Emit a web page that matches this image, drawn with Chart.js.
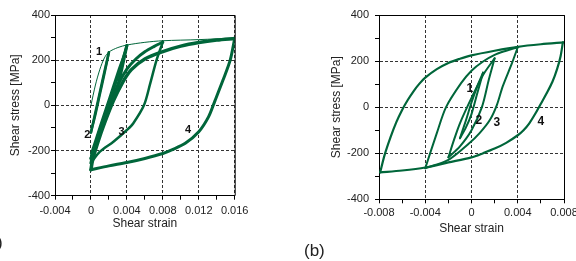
<!DOCTYPE html>
<html lang="en">
<head>
<meta charset="UTF-8">
<title>Shear hysteresis loops</title>
<script src="https://cdn.jsdelivr.net/npm/chart.js"></script>
<style>
  body { margin: 0; width: 576px; height: 261px; overflow: hidden; background: #fff; position: relative; font-family: "Liberation Sans", Arial, sans-serif; }
  canvas { position: absolute; top: 0; }
  #cA { left: 0; }
  #cB { left: 290px; }
  .tag { position: absolute; font-size: 17px; color: #222; }
</style>
</head>
<body>
<canvas id="cA" width="290" height="261"></canvas>
<canvas id="cB" width="300" height="261"></canvas>
<div class="tag" style="left:-18px; top:233px;">(a)</div>
<div class="tag" style="left:304px; top:241px;">(b)</div>
<script>
// ---- panel (a): strain 0 .. max, [strain, stress MPa]
const a1Up   = [[0,-120],[0.0005,-30],[0.001,60],[0.0015,150],[0.002,235]];
const a1Down = [[0.002,235],[0.0015,140],[0.001,50],[0.0005,-40],[0,-120]];
const a2Up   = [[0,-235],[0.001,-110],[0.002,10],[0.003,130],[0.0035,195],[0.004,265]];
const a2Down = [[0.004,265],[0.0036,190],[0.003,90],[0.002,-20],[0.001,-125],[0,-235]];
const a2Up2  = [[0,-215],[0.001,-92],[0.002,28],[0.003,150],[0.0035,205],[0.004,262]];
const a3Up   = [[0,-255],[0.0003,-200],[0.001,-120],[0.002,-10],[0.003,90],[0.004,160],[0.005,205],[0.006,237],[0.007,260],[0.008,280]];
const a3Down = [[0.008,280],[0.0073,200],[0.0066,97],[0.0059,0],[0.0047,-80],[0.004,-109],[0.0025,-161],[0.001,-205],[0,-255]];
const a4Up   = [[0,-285],[0.0002,-240],[0.0008,-160],[0.0015,-80],[0.0025,20],[0.0035,100],[0.0045,158],[0.006,205],[0.008,238],[0.01,262],[0.012,278],[0.014,289],[0.016,296]];
const a4Down = [[0.016,296],[0.0155,200],[0.0147,112],[0.0138,20],[0.0131,-50],[0.012,-117],[0.0105,-168],[0.009,-197],[0.008,-213],[0.006,-235],[0.004,-253],[0.002,-268],[0,-285]];
const aFirst = [[0,0],[0.0005,90],[0.001,160],[0.0015,210],[0.002,236],[0.003,256],[0.004,267],[0.006,279],[0.008,286],[0.012,291],[0.016,298]];
const aLabels = [["1",0.0009,237],["2",-0.0004,-131],["3",0.0034,-117],["4",0.0108,-109]];

// ---- panel (b): symmetric strain
const b1Up   = [[-0.001,-135],[-0.0005,-60],[0,20],[0.0005,90],[0.001,150]];
const b1Down = [[0.001,150],[0.0005,60],[0,-30],[-0.0005,-90],[-0.001,-135]];
const b2Up   = [[-0.002,-218],[-0.0015,-140],[-0.001,-70],[0,40],[0.001,140],[0.002,212]];
const b2Down = [[0.002,212],[0.0015,120],[0.0009,0],[0,-100],[-0.001,-170],[-0.002,-218]];
const b3Up   = [[-0.004,-265],[-0.003,-113],[-0.0022,0],[-0.0009,104],[0,158],[0.001,198],[0.002,227],[0.003,245],[0.004,260]];
const b3Down = [[0.004,260],[0.0035,191],[0.0027,90],[0.0022,10],[0.0016,-55],[0.0007,-113],[-0.0002,-157],[-0.002,-229],[-0.004,-265]];
const b4Up   = [[-0.0079,-283],[-0.0075,-205],[-0.007,-130],[-0.0065,-65],[-0.006,-12],[-0.0055,32],[-0.005,70],[-0.0045,102],[-0.004,128],[-0.003,165],[-0.002,192],[-0.001,210],[0,225],[0.002,245],[0.004,262],[0.006,273],[0.008,281]];
const b4Down = [[0.0079,281],[0.0077,220],[0.0074,165],[0.007,110],[0.0065,60],[0.006,15],[0.0055,-30],[0.005,-70],[0.0045,-100],[0.004,-122],[0.003,-155],[0.002,-180],[0.001,-200],[0,-218],[-0.002,-240],[-0.004,-262],[-0.006,-275],[-0.0079,-283]];
const bLabels = [["1",-0.00015,78],["2",0.00063,-58],["3",0.0022,-67],["4",0.006,-63]];

const green = "#00663a";
const fontFam = "'Liberation Sans', Arial, sans-serif";

function line(pts, w) {
    return {
        data: pts.map(p => ({x: p[0], y: p[1]})),
        showLine: true, pointRadius: 0, borderColor: green, borderWidth: w,
        tension: 0.3, borderCapStyle: "round", borderJoinStyle: "round", fill: false
    };
}

function fmt(v) {
    return String(Math.round(v * 1000) / 1000);
}

// box on top and right + loop numbers
const extras = {
    id: "extras",
    afterDraw(chart, args, opts) {
        const c = chart.ctx, a = chart.chartArea;
        c.save();
        c.strokeStyle = "#000";
        c.lineWidth = 1;
        c.beginPath();
        c.moveTo(a.left, a.top + 0.5);
        c.lineTo(a.right + 0.5, a.top + 0.5);
        c.lineTo(a.right + 0.5, a.bottom);
        c.stroke();
        c.fillStyle = "#111";
        c.font = "bold " + opts.size + "px " + fontFam;
        c.textAlign = "center";
        c.textBaseline = "middle";
        opts.labels.forEach(l => {
            c.fillText(l[0], chart.scales.x.getPixelForValue(l[1]), chart.scales.y.getPixelForValue(l[2]));
        });
        c.restore();
    }
};

function makeChart(id, sets, cfg) {
    return new Chart(document.getElementById(id), {
        type: "scatter",
        data: { datasets: sets },
        plugins: [extras],
        options: {
            responsive: false, animation: false, devicePixelRatio: 1,
            layout: { padding: cfg.pad },
            plugins: { legend: { display: false }, tooltip: { enabled: false }, extras: { labels: cfg.labels, size: cfg.lblSize } },
            scales: {
                x: {
                    type: "linear", min: cfg.xmin, max: cfg.xmax,
                    afterFit: s => { s.height = 40; },
                    ticks: {
                        stepSize: 0.002, autoSkip: false, maxRotation: 0, padding: cfg.xPad,
                        color: "#222", font: { family: fontFam, size: 11 },
                        callback: v => (Math.round(v / 0.002) % 2 === 0 ? fmt(v) : "")
                    },
                    grid: {
                        color: c => (Math.round(c.tick.value / 0.002) % 2 === 0 ? "#333" : "rgba(0,0,0,0)"),
                        tickColor: "#000", tickLength: 4, lineWidth: 1
                    },
                    border: { color: "#000", width: 1, dash: [3, 2] },
                    title: { display: true, text: "Shear strain", color: "#222", font: { family: fontFam, size: 12 }, padding: { top: 0, bottom: cfg.xTitlePad } }
                },
                y: {
                    type: "linear", min: -400, max: 400,
                    afterFit: s => { s.width = cfg.yWidth; },
                    ticks: {
                        stepSize: 100, autoSkip: false, padding: cfg.yPad,
                        color: "#222", font: { family: fontFam, size: 11 },
                        callback: v => (v % 200 === 0 ? String(v) : "")
                    },
                    grid: {
                        color: c => (c.tick.value % 200 === 0 ? "#333" : "rgba(0,0,0,0)"),
                        tickColor: "#000", tickLength: 4, lineWidth: 1
                    },
                    border: { color: "#000", width: 1, dash: [3, 2] },
                    title: { display: true, text: "Shear stress [MPa]", color: "#222", font: { family: fontFam, size: 12 }, padding: { top: cfg.yTitlePad, bottom: 0 } }
                }
            }
        }
    });
}

makeChart("cA", [
    line(aFirst, 1),
    line(a1Up, 2.5), line(a1Down, 2.5),
    line(a2Up, 3), line(a2Down, 3), line(a2Up2, 2),
    line(a3Up, 3), line(a3Down, 2.5),
    line(a4Up, 3.5), line(a4Down, 3)
], {
    xmin: -0.004, xmax: 0.016, pad: { left: 0, right: 55.3, top: 15, bottom: 25.3 },
    yWidth: 55, xPad: 5, yPad: 1, xTitlePad: 4.5, yTitlePad: 8, labels: aLabels, lblSize: 11
});

makeChart("cB", [
    line(b1Up, 2), line(b1Down, 2),
    line(b2Up, 2), line(b2Down, 2),
    line(b3Up, 2), line(b3Down, 2),
    line(b4Up, 2.2), line(b4Down, 2.2)
], {
    xmin: -0.008, xmax: 0.008, pad: { left: 0, right: 26, top: 15, bottom: 21.7 },
    yWidth: 89, xPad: 3, yPad: 6, xTitlePad: 3.1, yTitlePad: 39.5, labels: bLabels, lblSize: 12
});
</script>
</body>
</html>
